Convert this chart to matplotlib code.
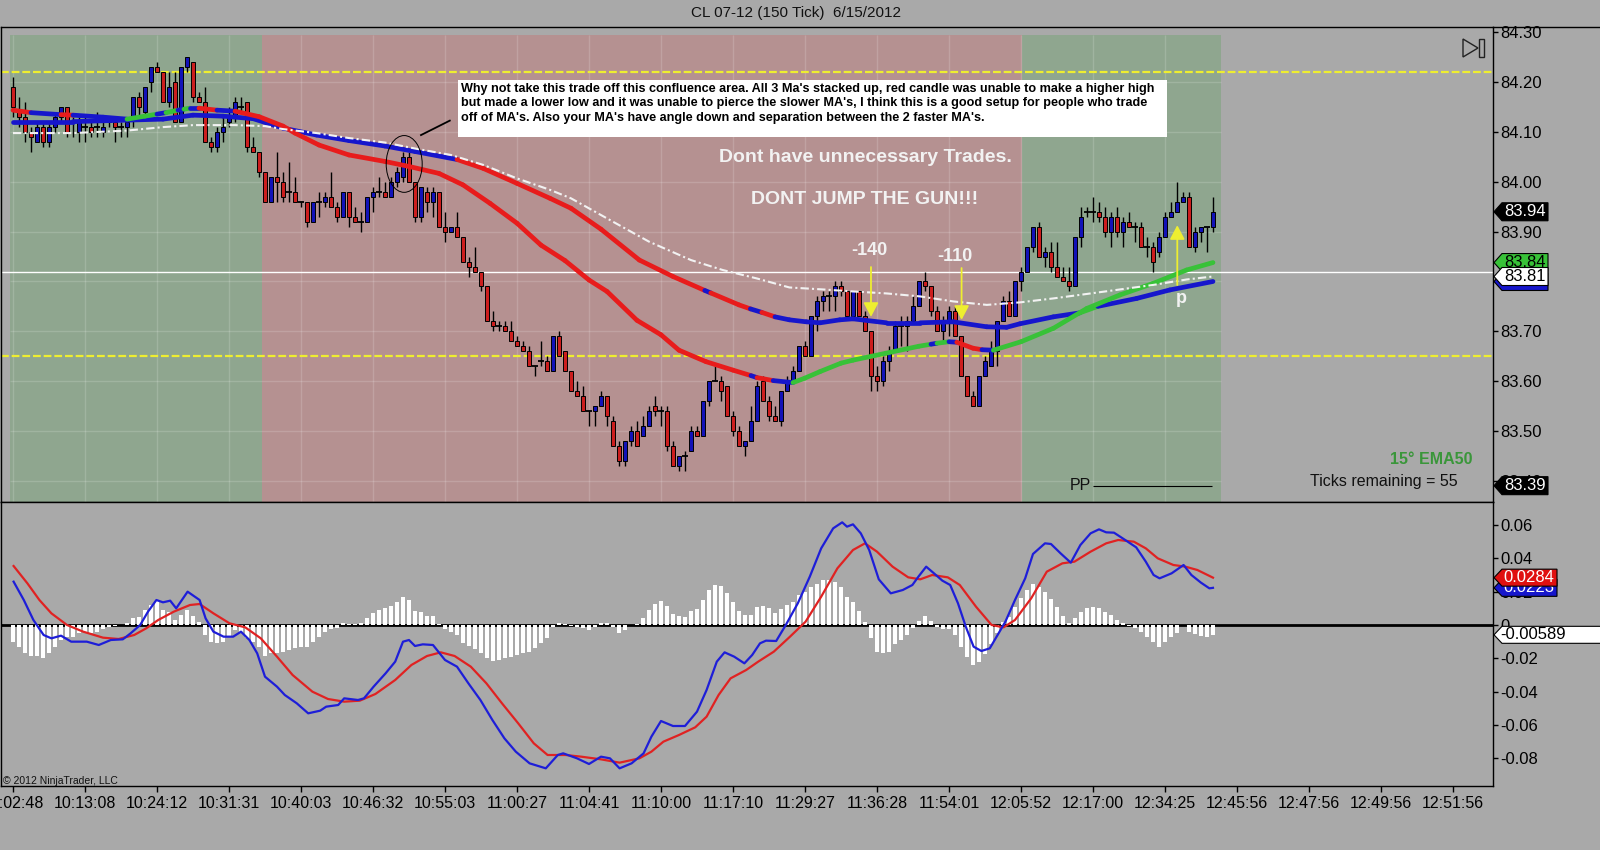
import matplotlib
matplotlib.use("Agg")
import matplotlib.pyplot as plt
from matplotlib.collections import LineCollection
from matplotlib.patches import Rectangle, Polygon, Ellipse
from matplotlib.lines import Line2D
import numpy as np

plt.rcParams['font.family'] = ['Liberation Sans', 'DejaVu Sans']

# ------------------------------------------------------------------ data
title = "CL 07-12 (150 Tick)  6/15/2012"

opens = [84.19, 84.14, 84.13, 84.10, 84.08, 84.11, 84.08, 84.11, 84.13, 84.15,
         84.12, 84.10, 84.11, 84.11, 84.11, 84.10, 84.12, 84.12, 84.11, 84.11,
         84.13, 84.17, 84.14, 84.20, 84.23, 84.22, 84.16, 84.20, 84.12, 84.23,
         84.24, 84.17, 84.16, 84.08, 84.07, 84.10, 84.12, 84.13, 84.15, 84.16,
         84.07, 84.06, 84.02, 83.96, 84.01, 84.00, 83.98, 83.98, 83.96, 83.96,
         83.92, 83.96, 83.96, 83.97, 83.95, 83.93, 83.98, 83.93, 83.92, 83.92,
         83.97, 83.98, 83.98, 83.97, 84.00, 84.01, 84.05, 84.00, 83.93, 83.98,
         83.96, 83.98, 83.91, 83.90, 83.91, 83.89, 83.84, 83.83, 83.82, 83.79,
         83.72, 83.71, 83.71, 83.70, 83.68, 83.67, 83.66, 83.63, 83.64, 83.64,
         83.62, 83.69, 83.66, 83.62, 83.58, 83.57, 83.54, 83.54, 83.55, 83.57,
         83.52, 83.47, 83.44, 83.48, 83.50, 83.49, 83.51, 83.55, 83.54, 83.54,
         83.47, 83.43, 83.45, 83.46, 83.50, 83.49, 83.56, 83.60, 83.60, 83.59,
         83.53, 83.50, 83.47, 83.48, 83.52, 83.60, 83.56, 83.53, 83.52, 83.58,
         83.60, 83.62, 83.67, 83.65, 83.73, 83.76, 83.77, 83.77, 83.79, 83.78,
         83.73, 83.78, 83.73, 83.70, 83.61, 83.60, 83.64, 83.66, 83.71, 83.71,
         83.72, 83.75, 83.80, 83.79, 83.74, 83.70, 83.72, 83.74, 83.69, 83.61,
         83.57, 83.55, 83.61, 83.63, 83.66, 83.72, 83.76, 83.73, 83.80, 83.82,
         83.87, 83.91, 83.85, 83.86, 83.83, 83.81, 83.80, 83.79, 83.89, 83.94,
         83.94, 83.94, 83.93, 83.90, 83.93, 83.90, 83.92, 83.91, 83.91, 83.87,
         83.87, 83.86, 83.89, 83.93, 83.94, 83.96, 83.97, 83.87, 83.90, 83.91,
         83.91]
highs = [84.21, 84.17, 84.16, 84.11, 84.12, 84.12, 84.12, 84.14, 84.15, 84.15,
         84.13, 84.13, 84.13, 84.12, 84.14, 84.12, 84.13, 84.12, 84.12, 84.12,
         84.17, 84.18, 84.19, 84.23, 84.24, 84.22, 84.22, 84.22, 84.23, 84.25,
         84.24, 84.18, 84.19, 84.09, 84.11, 84.13, 84.15, 84.17, 84.17, 84.16,
         84.09, 84.06, 84.02, 84.01, 84.06, 84.02, 84.04, 84.01, 83.96, 83.96,
         83.96, 83.98, 83.98, 84.02, 83.96, 83.98, 83.98, 83.95, 83.94, 83.97,
         83.99, 84.01, 84.00, 84.01, 84.03, 84.06, 84.06, 84.00, 83.99, 83.99,
         83.99, 83.98, 83.94, 83.91, 83.94, 83.89, 83.85, 83.87, 83.82, 83.79,
         83.74, 83.72, 83.72, 83.72, 83.69, 83.68, 83.67, 83.63, 83.68, 83.65,
         83.69, 83.70, 83.66, 83.62, 83.60, 83.59, 83.54, 83.55, 83.58, 83.57,
         83.53, 83.48, 83.48, 83.51, 83.52, 83.53, 83.55, 83.57, 83.55, 83.55,
         83.48, 83.45, 83.46, 83.51, 83.51, 83.56, 83.60, 83.63, 83.61, 83.59,
         83.54, 83.51, 83.48, 83.55, 83.60, 83.61, 83.57, 83.55, 83.58, 83.61,
         83.63, 83.67, 83.68, 83.73, 83.77, 83.78, 83.78, 83.80, 83.80, 83.78,
         83.78, 83.78, 83.74, 83.70, 83.63, 83.65, 83.67, 83.72, 83.73, 83.73,
         83.77, 83.80, 83.82, 83.79, 83.75, 83.73, 83.75, 83.75, 83.69, 83.61,
         83.58, 83.61, 83.65, 83.68, 83.72, 83.77, 83.78, 83.80, 83.83, 83.87,
         83.91, 83.92, 83.87, 83.88, 83.88, 83.83, 83.83, 83.89, 83.95, 83.95,
         83.97, 83.96, 83.95, 83.94, 83.95, 83.93, 83.94, 83.92, 83.92, 83.89,
         83.88, 83.90, 83.94, 83.96, 84.00, 83.98, 83.98, 83.91, 83.91, 83.91,
         83.97]
lows = [84.13, 84.11, 84.08, 84.06, 84.08, 84.07, 84.07, 84.10, 84.12, 84.09,
        84.09, 84.08, 84.08, 84.09, 84.09, 84.09, 84.11, 84.08, 84.09, 84.09,
        84.11, 84.13, 84.13, 84.18, 84.22, 84.16, 84.15, 84.12, 84.12, 84.22,
        84.16, 84.16, 84.08, 84.06, 84.06, 84.08, 84.11, 84.12, 84.14, 84.06,
        84.06, 84.01, 83.96, 83.96, 83.96, 83.96, 83.96, 83.96, 83.95, 83.91,
        83.92, 83.93, 83.95, 83.95, 83.92, 83.93, 83.91, 83.92, 83.90, 83.92,
        83.94, 83.97, 83.97, 83.97, 83.99, 84.00, 84.00, 83.92, 83.92, 83.94,
        83.93, 83.91, 83.88, 83.90, 83.89, 83.84, 83.81, 83.82, 83.78, 83.72,
        83.70, 83.70, 83.70, 83.68, 83.67, 83.66, 83.63, 83.61, 83.63, 83.62,
        83.62, 83.65, 83.62, 83.58, 83.57, 83.54, 83.51, 83.51, 83.55, 83.51,
        83.47, 83.43, 83.43, 83.47, 83.47, 83.49, 83.51, 83.53, 83.51, 83.46,
        83.43, 83.42, 83.42, 83.46, 83.49, 83.49, 83.55, 83.60, 83.56, 83.53,
        83.49, 83.47, 83.45, 83.48, 83.52, 83.56, 83.52, 83.52, 83.51, 83.58,
        83.60, 83.62, 83.65, 83.65, 83.70, 83.74, 83.74, 83.74, 83.77, 83.73,
        83.73, 83.73, 83.70, 83.58, 83.58, 83.59, 83.62, 83.66, 83.67, 83.66,
        83.72, 83.75, 83.78, 83.73, 83.70, 83.68, 83.69, 83.69, 83.61, 83.57,
        83.55, 83.55, 83.61, 83.63, 83.63, 83.72, 83.73, 83.73, 83.78, 83.82,
        83.86, 83.85, 83.83, 83.82, 83.81, 83.80, 83.78, 83.79, 83.87, 83.93,
        83.92, 83.92, 83.89, 83.87, 83.89, 83.87, 83.91, 83.88, 83.87, 83.85,
        83.82, 83.85, 83.89, 83.93, 83.94, 83.96, 83.87, 83.86, 83.88, 83.86,
        83.90]
closes = [84.15, 84.13, 84.10, 84.09, 84.11, 84.08, 84.11, 84.13, 84.15, 84.10,
          84.12, 84.12, 84.11, 84.10, 84.11, 84.11, 84.12, 84.11, 84.11, 84.12,
          84.17, 84.15, 84.19, 84.23, 84.22, 84.16, 84.19, 84.12, 84.23, 84.25,
          84.17, 84.16, 84.08, 84.07, 84.10, 84.11, 84.13, 84.16, 84.15, 84.07,
          84.06, 84.02, 83.96, 84.01, 84.00, 83.97, 83.98, 83.96, 83.96, 83.92,
          83.96, 83.96, 83.97, 83.95, 83.93, 83.98, 83.93, 83.92, 83.92, 83.97,
          83.98, 83.98, 83.97, 84.00, 84.02, 84.05, 84.00, 83.93, 83.99, 83.96,
          83.98, 83.91, 83.90, 83.91, 83.89, 83.84, 83.83, 83.82, 83.79, 83.72,
          83.71, 83.71, 83.70, 83.68, 83.67, 83.66, 83.63, 83.63, 83.64, 83.62,
          83.69, 83.65, 83.62, 83.58, 83.57, 83.54, 83.54, 83.55, 83.57, 83.53,
          83.47, 83.44, 83.48, 83.50, 83.47, 83.51, 83.54, 83.54, 83.54, 83.47,
          83.43, 83.45, 83.45, 83.50, 83.49, 83.56, 83.60, 83.60, 83.58, 83.53,
          83.50, 83.47, 83.48, 83.52, 83.59, 83.56, 83.53, 83.52, 83.58, 83.60,
          83.62, 83.67, 83.65, 83.73, 83.76, 83.77, 83.77, 83.79, 83.78, 83.73,
          83.78, 83.73, 83.70, 83.61, 83.60, 83.64, 83.66, 83.71, 83.71, 83.72,
          83.75, 83.80, 83.79, 83.74, 83.70, 83.72, 83.74, 83.69, 83.61, 83.57,
          83.55, 83.61, 83.64, 83.66, 83.72, 83.76, 83.73, 83.80, 83.82, 83.87,
          83.91, 83.85, 83.86, 83.83, 83.81, 83.80, 83.79, 83.89, 83.93, 83.94,
          83.94, 83.93, 83.90, 83.93, 83.90, 83.92, 83.91, 83.91, 83.87, 83.87,
          83.84, 83.89, 83.93, 83.94, 83.96, 83.97, 83.87, 83.90, 83.91, 83.91,
          83.94]

# fast MA (slope state: d=down, u=up, f=flat)
ma1_x = [0, 3, 8, 10, 15, 19, 22, 24, 25.5, 27.5, 28.5, 29.5, 31, 34, 37, 41, 45, 47, 51, 56,
         62, 66, 71, 75, 79.5, 84, 88, 92, 96, 99, 104, 108, 111, 115.5, 120, 123, 124, 126.7, 130, 132,
         134.5, 138, 140, 145.5, 151, 153, 154, 156, 157.3, 160, 161.5, 163.4, 168, 173.4, 179, 184.5,
         190, 195.6, 200]
ma1_y = [84.144, 84.139, 84.135, 84.134, 84.130, 84.126, 84.132, 84.136, 84.139, 84.144,
         84.146, 84.148, 84.148, 84.144, 84.142, 84.131, 84.112, 84.098, 84.074, 84.054,
         84.041, 84.031, 84.017, 83.994, 83.957, 83.917, 83.873, 83.842, 83.803, 83.780,
         83.722, 83.693, 83.662, 83.639, 83.622, 83.611, 83.607, 83.601, 83.597, 83.606,
         83.619, 83.636, 83.642, 83.656, 83.670, 83.674, 83.676, 83.679, 83.678, 83.666,
         83.663, 83.662, 83.679, 83.706, 83.746, 83.773, 83.796, 83.823, 83.838]
ma1_state = "dfdffuufuf" + "ufdfdddddd" + "dddddddddd" + "dddddfdfuu" + "uuuuufufdd" + "fuuuuuuu"

# medium MA (b=blue, r=red, g=green)
ma2_x = [0, 10, 19, 25, 30, 35, 40, 45, 50.6, 56, 62, 67, 74, 78.4, 84, 89.5, 93, 98, 104.4, 110,
         115.3, 116.3, 121, 122.9, 124.8, 127, 129.4, 132.2, 134.5, 137.8, 140, 145.6, 151.2, 156.7,
         162.3, 165.6, 167.8, 173.4, 177.8, 180.8, 187.3, 192.8, 200]
ma2_y = [84.121, 84.121, 84.124, 84.126, 84.134, 84.132, 84.127, 84.108, 84.094, 84.083,
         84.072, 84.061, 84.045, 84.027, 83.997, 83.967, 83.947, 83.905, 83.843, 83.810,
         83.782, 83.777, 83.753, 83.745, 83.738, 83.729, 83.723, 83.719, 83.717, 83.723,
         83.725, 83.717, 83.717, 83.719, 83.709, 83.708, 83.715, 83.729, 83.737, 83.750,
         83.766, 83.783, 83.800]
ma2_state = "bbbbbbbbbbbb" + "rrrrrrrr" + "b" + "rr" + "b" + "r" + "bbbbbbbbbbbbb" + "g" + "bbb"

# slow MA (white dash-dot)
ma3_x = [0, 10, 19, 25, 30, 37, 42, 45, 50.6, 56, 62, 67, 73, 78.4, 84, 89.5, 93, 100, 106, 113,
         118.3, 124, 129.4, 135, 140, 145.6, 151.2, 156.7, 162.3, 167.8, 173.4, 179, 184.5, 190,
         195.6, 200]
ma3_y = [84.098, 84.098, 84.103, 84.110, 84.114, 84.114, 84.112, 84.106, 84.098, 84.088,
         84.079, 84.067, 84.054, 84.034, 84.007, 83.984, 83.967, 83.920, 83.880, 83.843,
         83.823, 83.806, 83.788, 83.784, 83.780, 83.776, 83.770, 83.760, 83.753, 83.758,
         83.766, 83.775, 83.784, 83.793, 83.804, 83.810]

# background regions (bar units) and their kind
region_edges = [-0.5, 41.5, 168.2, 201.3]
region_kind = ['g', 'r', 'g']

# horizontal levels
yellow_levels = [84.22, 83.65]
white_level = 83.82
pp_level = 83.39

# MACD
macd_x = [0.1, 1.8, 3.4, 5.1, 6.4, 8.0, 9.7, 12.3, 14.3, 16.3, 18.3, 19.6, 21.2, 22.5, 23.9, 25.0,
          26.2, 27.2, 29.1, 31.1, 32.1, 33.4, 35.1, 36.7, 38.0, 39.4, 40.7, 42.0, 44.0, 45.3, 47.3,
          49.2, 51.2, 52.2, 54.2, 55.2, 57.5, 58.5, 60.1, 62.1, 63.7, 65.0, 66.0, 67.0, 68.3, 70.0,
          72.0, 74.0, 75.9, 77.9, 79.9, 81.9, 83.8, 86.1, 88.8, 90.8, 91.7, 94.0, 96.0, 98.0, 99.5,
          101.1, 103.1, 105.1, 106.4, 108.0, 110.0, 112.0, 114.0, 115.6, 117.3, 118.6, 120.2, 121.9,
          123.2, 124.5, 125.5, 127.2, 128.8, 130.8, 132.8, 134.7, 136.7, 138.2, 139.0, 140.0, 141.3,
          142.7, 144.3, 146.3, 148.3, 149.9, 150.9, 152.2, 153.5, 154.9, 156.2, 157.5, 158.8, 160.1,
          161.4, 162.8, 164.1, 165.4, 167.0, 168.7, 170.0, 172.0, 173.0, 174.6, 176.3, 177.9, 179.6,
          181.0, 182.2, 183.5, 185.2, 187.2, 188.8, 190.1, 191.1, 193.1, 195.1, 196.4, 198.0, 199.4,
          200.0]
macd_y = [0.026, 0.015, 0.003, -0.006, -0.008, -0.0064, -0.010, -0.010, -0.012, -0.009, -0.0086,
          -0.005, 0.0, 0.008, 0.015, 0.0136, 0.0146, 0.010, 0.020, 0.015, 0.004, -0.004, -0.007,
          -0.007, -0.004, -0.009, -0.017, -0.031, -0.037, -0.042, -0.047, -0.053, -0.0514, -0.049,
          -0.048, -0.044, -0.045, -0.044, -0.037, -0.029, -0.022, -0.010, -0.009, -0.0126, -0.0116,
          -0.012, -0.021, -0.025, -0.035, -0.045, -0.057, -0.068, -0.076, -0.083, -0.086, -0.078,
          -0.077, -0.080, -0.0834, -0.079, -0.080, -0.086, -0.083, -0.077, -0.067, -0.0576, -0.0606,
          -0.0606, -0.052, -0.039, -0.022, -0.0164, -0.019, -0.023, -0.018, -0.011, -0.0094, -0.0096,
          0.0, 0.013, 0.029, 0.046, 0.058, 0.0616, 0.059, 0.0604, 0.055, 0.045, 0.0274, 0.019, 0.021,
          0.024, 0.029, 0.035, 0.031, 0.0266, 0.024, 0.013, -0.001, -0.013, -0.0156, -0.014, -0.006,
          0.002, 0.015, 0.028, 0.0426, 0.049, 0.0486, 0.043, 0.0374, 0.048, 0.055, 0.0574, 0.0556,
          0.0554, 0.0514, 0.0466, 0.038, 0.030, 0.028, 0.031, 0.036, 0.030, 0.0254, 0.022, 0.0223]
sig_x = [0.1, 2.4, 4.4, 6.4, 9.0, 11.7, 15.0, 17.6, 20.2, 22.2, 24.2, 26.8, 29.5, 31.1, 33.4, 36.1,
         38.7, 41.3, 44.0, 46.6, 49.9, 52.5, 55.2, 57.8, 60.4, 63.7, 66.4, 69.0, 71.3, 73.6, 76.3,
         78.9, 81.5, 84.2, 86.8, 89.1, 92.1, 94.7, 98.0, 101.1, 104.4, 106.4, 108.4, 111.0, 113.7,
         115.6, 117.6, 119.6, 122.2, 124.2, 126.8, 129.5, 132.1, 134.7, 137.4, 140.0, 142.0, 144.0,
         146.6, 149.2, 151.2, 153.2, 155.8, 157.8, 160.5, 163.1, 165.1, 167.0, 169.7, 172.3, 174.9,
         176.9, 179.6, 182.2, 184.2, 186.8, 188.8, 190.8, 193.4, 195.4, 197.4, 200.0]
sig_y = [0.0354, 0.025, 0.015, 0.007, 0.0, -0.004, -0.0076, -0.0084, -0.006, -0.002, 0.003, 0.008,
         0.012, 0.0126, 0.007, 0.001, -0.0014, -0.008, -0.019, -0.030, -0.040, -0.0444, -0.046,
         -0.0454, -0.0414, -0.033, -0.024, -0.0186, -0.0164, -0.0186, -0.025, -0.035, -0.047, -0.059,
         -0.071, -0.078, -0.078, -0.079, -0.0806, -0.0826, -0.080, -0.076, -0.070, -0.066, -0.0614,
         -0.055, -0.042, -0.032, -0.027, -0.022, -0.016, -0.007, 0.002, 0.017, 0.034, 0.045, 0.049,
         0.044, 0.035, 0.0286, 0.0274, 0.030, 0.0286, 0.024, 0.011, 0.0, -0.0014, 0.003, 0.016,
         0.032, 0.037, 0.038, 0.044, 0.049, 0.051, 0.050, 0.046, 0.040, 0.036, 0.035, 0.033, 0.0284]
hist = [-0.010, -0.013, -0.0166, -0.0186, -0.0186, -0.0196, -0.017, -0.0134, -0.009, -0.007,
        -0.007, -0.005, -0.004, -0.0046, -0.004, -0.0026, -0.001, -0.0006, -0.0002, 0.001,
        0.004, 0.005, 0.009, 0.012, 0.0144, 0.009, 0.008, 0.003, 0.006, 0.009,
        0.0054, 0.002, -0.006, -0.010, -0.011, -0.010, -0.007, -0.003, -0.004, -0.008,
        -0.010, -0.013, -0.0184, -0.0166, -0.017, -0.016, -0.015, -0.014, -0.0134, -0.0134,
        -0.010, -0.007, -0.004, -0.0026, -0.002, 0.001, 0.0004, 0.0006, 0.001, 0.004,
        0.007, 0.009, 0.010, 0.0114, 0.014, 0.0166, 0.015, 0.0086, 0.0076, 0.0054,
        0.0054, 0.0004, -0.0026, -0.004, -0.006, -0.011, -0.0126, -0.0146, -0.017, -0.020,
        -0.0214, -0.021, -0.020, -0.019, -0.018, -0.0166, -0.016, -0.014, -0.011, -0.008,
        -0.001, 0.001, 0.0006, -0.0006, -0.0014, -0.002, -0.003, -0.001, 0.001, 0.001,
        -0.0014, -0.005, -0.003, 0.0, 0.0006, 0.004, 0.009, 0.0124, 0.0144, 0.0114,
        0.0066, 0.0054, 0.0046, 0.0086, 0.0098, 0.015, 0.021, 0.0238, 0.0234, 0.0194,
        0.014, 0.0086, 0.0058, 0.0058, 0.011, 0.0114, 0.010, 0.0074, 0.0094, 0.012,
        0.014, 0.018, 0.020, 0.023, 0.0246, 0.027, 0.027, 0.026, 0.023, 0.0166,
        0.014, 0.0086, 0.002, -0.008, -0.016, -0.017, -0.016, -0.0114, -0.009, -0.006,
        -0.002, 0.0026, 0.0054, 0.0026, -0.001, -0.0026, -0.0026, -0.006, -0.013, -0.019,
        -0.024, -0.022, -0.0174, -0.0114, -0.005, 0.002, 0.005, 0.011, 0.016, 0.021,
        0.0246, 0.023, 0.020, 0.0154, 0.0106, 0.0054, 0.0014, 0.004, 0.008, 0.010,
        0.011, 0.010, 0.008, 0.006, 0.003, 0.001, -0.0006, -0.002, -0.004, -0.007,
        -0.010, -0.013, -0.010, -0.007, -0.0046, 0.0, -0.004, -0.0054, -0.0066, -0.007,
        -0.00589]

time_labels = ["10:02:48", "10:13:08", "10:24:12", "10:31:31", "10:40:03", "10:46:32", "10:55:03",
               "11:00:27", "11:04:41", "11:10:00", "11:17:10", "11:29:27", "11:36:28", "11:54:01",
               "12:05:52", "12:17:00", "12:34:25", "12:45:56", "12:47:56", "12:49:56", "12:51:56"]
price_ticks = [83.40, 83.50, 83.60, 83.70, 83.80, 83.90, 84.00, 84.10, 84.20, 84.30]
price_tick_labels = ["83.40", "83.50", "83.60", "83.70", "", "83.90", "84.00", "84.10", "84.20", "84.30"]
macd_ticks = [-0.08, -0.06, -0.04, -0.02, 0.0, 0.02, 0.04, 0.06]
macd_tick_labels = ["-0.08", "-0.06", "-0.04", "-0.02", "0", "0.02", "0.04", "0.06"]

note_lines = ["Why not take this trade off this confluence area. All 3 Ma's stacked up, red candle was unable to make a higher high",
              "but made a lower low and it was unable to pierce the slower MA's, I think this is a good setup for people who trade",
              "off of MA's. Also your MA's have angle down and separation between the 2 faster MA's."]

# ------------------------------------------------------------------ style
W, H = 1600, 850
BG = '#A9A9A9'
GREEN_BG = '#8FA68F'
RED_BG = '#B59191'
UPC = '#1212B8'
DNC = '#CC1E1E'
MA_RED = '#E81C1C'
MA_BLUE = '#1616CC'
MA_GREEN = '#38C238'
YEL = '#EEEE30'
NARROW = ['Liberation Sans Narrow', 'Liberation Sans', 'DejaVu Sans']

fig = plt.figure(figsize=(W / 100, H / 100), dpi=100, facecolor=BG)


def fx(px):
    return px / W


def fy(py):
    return 1 - py / H


axp = fig.add_axes([fx(1), fy(502), fx(1493) - fx(1), fy(27) - fy(502)])
axm = fig.add_axes([fx(1), fy(786), fx(1493) - fx(1), fy(502) - fy(786)])
for ax in (axp, axm):
    ax.set_facecolor(BG)
    for s in ax.spines.values():
        s.set_color('black')
        s.set_linewidth(1)
    ax.set_xlim(-2, 246.67)
axp.set_ylim(83.3572, 84.3110)
axm.set_ylim(-0.0966, 0.0738)

# ---- price panel
top_shade = 84.295
for a, b, k in zip(region_edges[:-1], region_edges[1:], region_kind):
    axp.add_patch(Rectangle((a, 83.2), b - a, top_shade - 83.2,
                            fc=GREEN_BG if k == 'g' else RED_BG, ec='none', zorder=0))
grid_x = [t for t in range(0, 241, 12) if region_edges[0] <= t <= region_edges[-1]]
axp.vlines(grid_x, 83.2, top_shade, color='white', alpha=0.16, lw=1, zorder=0.5)
axp.hlines([p for p in price_ticks if p < top_shade], region_edges[0], region_edges[-1],
           color='white', alpha=0.16, lw=1, zorder=0.5)

for lv in yellow_levels:
    axp.axhline(lv, color=YEL, lw=1.6, dashes=(3.5, 1.3), zorder=1.5)
axp.axhline(white_level, color='white', lw=1.0, zorder=1.5)

o = np.array(opens); h = np.array(highs); l = np.array(lows); c = np.array(closes)
idx = np.arange(len(o))
up = c > o + 1e-9
dn = c < o - 1e-9
dj = ~(up | dn)
axp.vlines(idx, l, h, color='black', lw=1, zorder=2)
axp.bar(idx[up], (c - o)[up], bottom=o[up], width=0.76, color=UPC, edgecolor='black', lw=0.7, zorder=3)
axp.bar(idx[dn], (o - c)[dn], bottom=c[dn], width=0.76, color=DNC, edgecolor='black', lw=0.7, zorder=3)
axp.hlines(o[dj], idx[dj] - 0.42, idx[dj] + 0.42, color='black', lw=1.3, zorder=3)


def colored_line(ax, xs, ys, states, cmap, lw, z):
    pts = np.column_stack([xs, ys])
    segs = np.stack([pts[:-1], pts[1:]], axis=1)
    lc = LineCollection(segs, colors=[cmap[s] for s in states], linewidths=lw,
                        capstyle='round', joinstyle='round', zorder=z)
    ax.add_collection(lc)


colored_line(axp, ma2_x, ma2_y, ma2_state, {'b': MA_BLUE, 'r': MA_RED, 'g': MA_GREEN}, 3.4, 4)
colored_line(axp, ma1_x, ma1_y, ma1_state, {'d': MA_RED, 'u': MA_GREEN, 'f': MA_BLUE}, 3.4, 4.2)
axp.plot(ma3_x, ma3_y, color='#F2F2F2', lw=1.5, ls=(0, (4, 1.5, 1, 1.5)), zorder=4.5)

# PP pivot
axp.hlines(pp_level, 180, 199.8, color='black', lw=0.8, zorder=3)
axp.text(179.6, pp_level, 'PP', ha='right', va='center', fontsize=11.5, color='#111111', zorder=6)

# annotation box
axp.add_patch(Rectangle((74.2, 84.0908), 192.3 - 74.2, 84.2046 - 84.0908, fc='white', ec='none', zorder=6))
for yv, line in zip([84.1875, 84.1575, 84.1275], note_lines):
    axp.text(74.6, yv, line, ha='left', va='center', fontsize=9.05, fontweight='bold',
             family=NARROW, color='black', zorder=7)
axp.plot([68, 72.8], [84.094, 84.123], color='black', lw=1.3, zorder=6)
axp.add_patch(Ellipse((65.2, 84.036), 6.0, 0.114, fill=False, ec='black', lw=0.7, zorder=6))

axp.text(142.0, 84.0494, "Dont have unnecessary Trades.", ha='center', va='center', fontsize=14,
         fontweight='bold', color='#F2F2F2', zorder=7)
axp.text(142.0, 83.9637, "DONT JUMP THE GUN!!!", ha='center', va='center', fontsize=14,
         fontweight='bold', color='#F2F2F2', zorder=7)

arrow_kw = dict(arrowstyle='-|>,head_length=0.85,head_width=0.45', color=YEL, lw=1.3,
                shrinkA=0, shrinkB=0)
axp.annotate('', xy=(143.0, 83.729), xytext=(143.0, 83.829), arrowprops=arrow_kw, zorder=7)
axp.annotate('', xy=(158.1, 83.723), xytext=(158.1, 83.827), arrowprops=arrow_kw, zorder=7)
axp.annotate('', xy=(194.05, 83.913), xytext=(194.05, 83.793), arrowprops=arrow_kw, zorder=7)
axp.text(142.8, 83.863, "-140", ha='center', va='center', fontsize=13, fontweight='bold', color='#F2F2F2', zorder=7)
axp.text(157.0, 83.851, "-110", ha='center', va='center', fontsize=13, fontweight='bold', color='#F2F2F2', zorder=7)
axp.text(194.8, 83.766, "p", ha='center', va='center', fontsize=13, fontweight='bold', color='#F2F2F2', zorder=7)

axp.yaxis.tick_right()
axp.set_yticks(price_ticks)
axp.set_yticklabels(price_tick_labels)
axp.tick_params(axis='y', direction='out', length=3.8, width=1, pad=1.5, labelsize=12, colors='black')
axp.tick_params(axis='x', bottom=False, labelbottom=False, top=False)

# ---- MACD panel
axm.axhline(0, color='black', lw=2.0, zorder=1.5)
axm.bar(idx, hist, width=0.68, color='white', edgecolor='none', zorder=2)
axm.plot(sig_x, sig_y, color='#E02222', lw=1.6, zorder=3)
axm.plot(macd_x, macd_y, color='#1E1ED8', lw=1.6, zorder=3.2)
axm.yaxis.tick_right()
axm.set_yticks(macd_ticks)
axm.set_yticklabels(macd_tick_labels)
axm.tick_params(axis='y', direction='out', length=3.8, width=1, pad=1.5, labelsize=12, colors='black')
axm.set_xticks(list(range(0, 241, 12)))
axm.set_xticklabels(time_labels)
axm.tick_params(axis='x', direction='out', length=4.3, width=1, pad=3.2, labelsize=11.5, colors='black')

# ---- figure-level decorations
fig.text(fx(796), fy(13), title, ha='center', va='center', fontsize=11, color='#111111')
fig.add_artist(Line2D([fx(1493), 1.0], [fy(27), fy(27)], color='black', lw=1, transform=fig.transFigure))
fig.text(fx(3), fy(781), '\u00a9 2012 NinjaTrader, LLC', ha='left', va='center', fontsize=7.5,
         family=NARROW, color='#111111')
fig.text(fx(1473), fy(460), '15\u00b0 EMA50', ha='right', va='center', fontsize=11.5,
         fontweight='bold', color='#3A963A')
fig.text(fx(1458), fy(482), 'Ticks remaining = 55', ha='right', va='center', fontsize=11.5, color='#111111')
fig.add_artist(Polygon([(fx(1463), fy(39)), (fx(1463), fy(57)), (fx(1478), fy(48))], closed=True,
                       fill=False, ec='#222222', lw=1, transform=fig.transFigure))
fig.add_artist(Rectangle((fx(1479), fy(57)), fx(5), 18 / H, fill=False, ec='#222222', lw=1,
                         transform=fig.transFigure))


def tag(ax, val, txt, fc, tc, h=18, x0=1494, x1=1548, fs=12, z=20, tx=None, ha='center'):
    yd = ax.transData.transform((0, val))[1]
    yc = H - yd
    pts = [(x0, yc), (x0 + 8, yc - h / 2), (x1, yc - h / 2), (x1, yc + h / 2), (x0 + 8, yc + h / 2)]
    fig.add_artist(Polygon([(fx(px), fy(py)) for px, py in pts], closed=True, transform=fig.transFigure,
                           fc=fc, ec='black', lw=0.8, zorder=z))
    if tx is None:
        tx = (x0 + 8 + x1) / 2
    fig.text(fx(tx), fy(yc), txt, color=tc, fontsize=fs, ha=ha, va='center', zorder=z + 1)


tag(axp, closes[-1], f"{closes[-1]:.2f}", 'black', 'white', z=20)
tag(axp, ma1_y[-1], f"{ma1_y[-1]:.2f}", MA_GREEN, 'black', z=22)
tag(axp, ma2_y[-1], f"{ma2_y[-1]:.2f}", MA_BLUE, 'white', z=24)
tag(axp, ma3_y[-1], f"{ma3_y[-1]:.2f}", 'white', 'black', z=26)
tag(axp, pp_level, f"{pp_level:.2f}", 'black', 'white', z=20)
tag(axm, macd_y[-1], f"{macd_y[-1]:.4f}", MA_BLUE, 'white', h=17, x1=1557, z=20, tx=1503, ha='left')
tag(axm, sig_y[-1], f"{sig_y[-1]:.4f}", '#E01010', 'white', h=17, x1=1557, z=22, tx=1503, ha='left')
tag(axm, hist[-1], f"{hist[-1]:.5f}", 'white', 'black', h=17, x1=1605, z=22, tx=1500, ha='left')

fig.savefig('out.png', dpi=100, facecolor=BG)
